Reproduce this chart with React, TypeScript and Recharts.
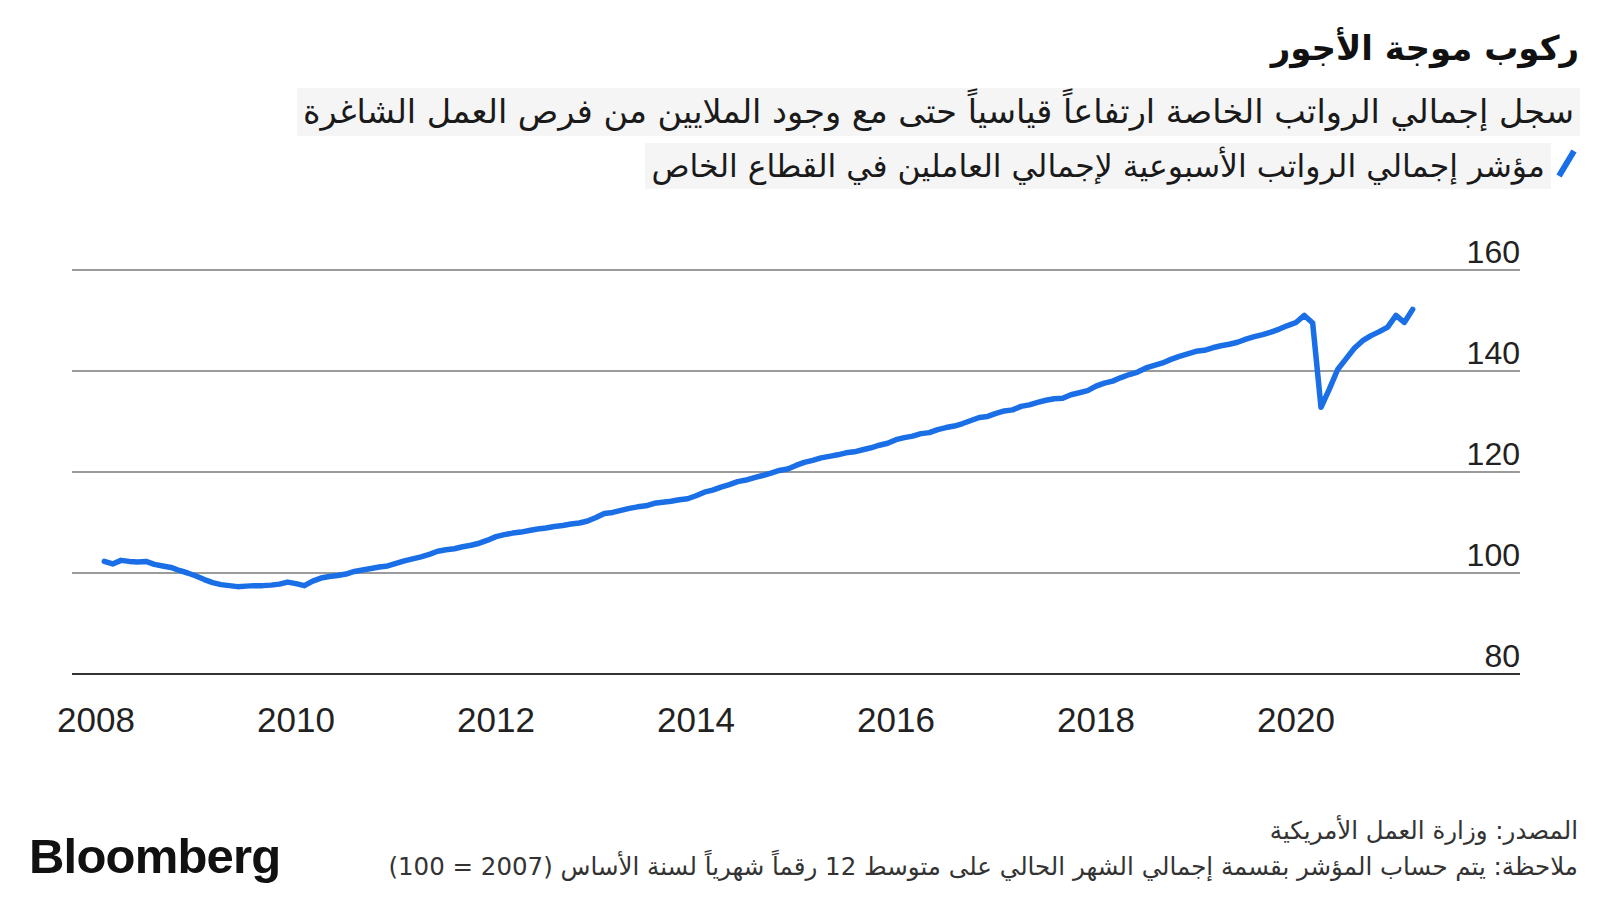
import React from "react";
import { LineChart, Line, XAxis, YAxis, CartesianGrid } from "recharts";

// Monthly index values (2007 = 100). 2008 series starts in February.
const v2008 = [102.3, 101.8, 102.5, 102.3, 102.2, 102.3, 101.7, 101.4, 101.1, 100.5, 100.0];
const v2009 = [99.4, 98.7, 98.1, 97.7, 97.5, 97.3, 97.4, 97.5, 97.5, 97.6, 97.8, 98.2];
const v2010 = [97.9, 97.5, 98.4, 99.0, 99.3, 99.5, 99.8, 100.3, 100.6, 100.9, 101.2, 101.4];
const v2011 = [101.9, 102.4, 102.8, 103.2, 103.7, 104.3, 104.6, 104.8, 105.2, 105.5, 105.9, 106.5];
const v2012 = [107.2, 107.6, 107.9, 108.1, 108.4, 108.7, 108.9, 109.2, 109.4, 109.7, 109.9, 110.3];
const v2013 = [111.0, 111.8, 112.0, 112.4, 112.8, 113.1, 113.3, 113.8, 114.0, 114.2, 114.5, 114.7];
const v2014 = [115.3, 116.0, 116.4, 117.0, 117.5, 118.1, 118.4, 118.9, 119.3, 119.8, 120.3, 120.6];
const v2015 = [121.3, 121.9, 122.3, 122.8, 123.1, 123.4, 123.8, 124.0, 124.4, 124.8, 125.3, 125.7];
const v2016 = [126.4, 126.8, 127.1, 127.6, 127.8, 128.4, 128.8, 129.1, 129.6, 130.2, 130.8, 131.0];
const v2017 = [131.6, 132.1, 132.3, 133.0, 133.3, 133.8, 134.2, 134.5, 134.6, 135.3, 135.7, 136.1];
const v2018 = [137.0, 137.6, 138.0, 138.7, 139.3, 139.8, 140.6, 141.1, 141.6, 142.3, 142.9, 143.4];
const v2019 = [143.9, 144.1, 144.6, 145.0, 145.3, 145.7, 146.3, 146.8, 147.2, 147.7, 148.3, 149.0];
const v2020 = [149.6, 151.0, 149.5, 132.8, 136.4, 140.3, 142.4, 144.5, 146.0, 147.0, 147.8, 148.7];
const v2021 = [151.0, 149.6, 152.2];

const seriesByYear: [number, number, number[]][] = [
  [2008, 1, v2008],
  [2009, 0, v2009],
  [2010, 0, v2010],
  [2011, 0, v2011],
  [2012, 0, v2012],
  [2013, 0, v2013],
  [2014, 0, v2014],
  [2015, 0, v2015],
  [2016, 0, v2016],
  [2017, 0, v2017],
  [2018, 0, v2018],
  [2019, 0, v2019],
  [2020, 0, v2020],
  [2021, 0, v2021],
];

const xTicks = [2008, 2010, 2012, 2014, 2016, 2018, 2020];
const yTicks = [80, 100, 120, 140, 160];

const title = "ركوب موجة الأجور";
const subtitle = "سجل إجمالي الرواتب الخاصة ارتفاعاً قياسياً حتى مع وجود الملايين من فرص العمل الشاغرة";
const legendLabel = "مؤشر إجمالي الرواتب الأسبوعية لإجمالي العاملين في القطاع الخاص";
const sourceText = "المصدر: وزارة العمل الأمريكية";
const noteText = "ملاحظة: يتم حساب المؤشر بقسمة إجمالي الشهر الحالي على متوسط 12 رقماً شهرياً لسنة الأساس (2007 = 100)";

const data: { t: number; v: number }[] = [];
seriesByYear.forEach(([year, startMonth, vals]) => {
  vals.forEach((v, i) => data.push({ t: year + (startMonth + i) / 12, v }));
});

const BLUE = "#1a6fe6";
const arabicFont = "'DejaVu Sans', 'Noto Sans', sans-serif";
const latinFont = "'Liberation Sans', Arial, Helvetica, sans-serif";

const YTick = (props: any) => {
  const { x, y, payload } = props;
  return (
    <text x={x} y={y - 7} textAnchor="end" fill="#222" fontSize={32} fontFamily={latinFont}>
      {payload.value}
    </text>
  );
};

export default function App() {
  return (
    <div style={{ position: "relative", width: 1600, height: 900, background: "#fff", overflow: "hidden" }}>
      <style>{`body{margin:0;}`}</style>
      <div
        style={{
          position: "absolute", right: 21, top: 24, direction: "rtl", fontFamily: arabicFont,
          fontWeight: 700, fontSize: 34, lineHeight: "48px", color: "#111", whiteSpace: "nowrap",
        }}
      >
        {title}
      </div>
      <div
        style={{
          position: "absolute", right: 20, top: 88, height: 48, direction: "rtl", fontFamily: arabicFont,
          fontSize: 33.5, lineHeight: "48px", color: "#1a1a1a", background: "#f5f5f5", padding: "0 6px",
          whiteSpace: "nowrap",
        }}
      >
        {subtitle}
      </div>
      <div
        style={{
          position: "absolute", right: 49, top: 143, height: 46, direction: "rtl", fontFamily: arabicFont,
          fontSize: 31.5, lineHeight: "46px", color: "#1a1a1a", background: "#f5f5f5", padding: "0 6px",
          whiteSpace: "nowrap",
        }}
      >
        {legendLabel}
      </div>
      <svg style={{ position: "absolute", left: 1552, top: 146 }} width={30} height={36}>
        <line x1={7} y1={30} x2={22} y2={5} stroke={BLUE} strokeWidth={6} />
      </svg>

      <div style={{ position: "absolute", left: 0, top: 0 }}>
        <LineChart
          width={1600}
          height={760}
          data={data}
          margin={{ top: 270, right: 79, bottom: 0, left: 72 }}
        >
          <CartesianGrid horizontal vertical={false} stroke="#7a7a7a" strokeWidth={1.5} />
          <XAxis
            type="number"
            dataKey="t"
            domain={[2007.76, 2022.24]}
            allowDataOverflow
            ticks={xTicks}
            interval={0}
            tickFormatter={(v: number) => String(v)}
            tickLine={false}
            tickSize={0}
            tickMargin={33}
            height={86}
            axisLine={{ stroke: "#333", strokeWidth: 2 }}
            tick={{ fill: "#222", fontSize: 35, fontFamily: latinFont }}
          />
          <YAxis
            orientation="right"
            width={1}
            domain={[80, 160]}
            ticks={yTicks}
            interval={0}
            allowDataOverflow
            axisLine={false}
            tickLine={false}
            tickSize={0}
            tickMargin={0}
            tick={<YTick />}
          />
          <Line
            type="linear"
            dataKey="v"
            stroke={BLUE}
            strokeWidth={5.5}
            dot={false}
            activeDot={false}
            strokeLinejoin="round"
            strokeLinecap="round"
            isAnimationActive={false}
          />
        </LineChart>
      </div>

      <div
        style={{
          position: "absolute", right: 22, top: 814, direction: "rtl", fontFamily: arabicFont,
          fontSize: 24.5, lineHeight: "34px", color: "#333", whiteSpace: "nowrap",
        }}
      >
        {sourceText}
      </div>
      <div
        style={{
          position: "absolute", right: 22, top: 850, direction: "rtl", fontFamily: arabicFont,
          fontSize: 24.5, lineHeight: "34px", color: "#333", whiteSpace: "nowrap",
        }}
      >
        {noteText}
      </div>
      <div
        style={{
          position: "absolute", left: 29, top: 832, fontFamily: latinFont, fontWeight: 700,
          fontSize: 49, lineHeight: "49px", letterSpacing: -0.8, color: "#111",
        }}
      >
        Bloomberg
      </div>
    </div>
  );
}
